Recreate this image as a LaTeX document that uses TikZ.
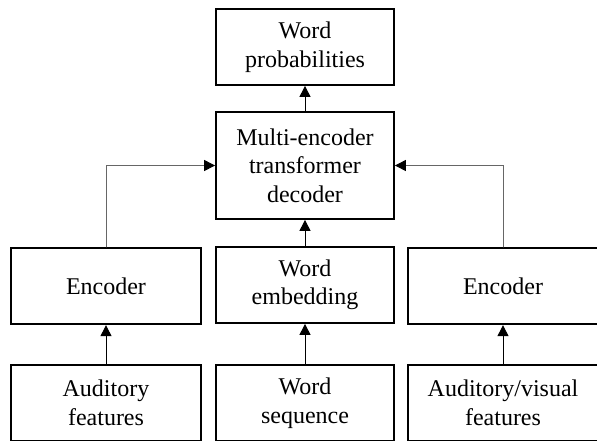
\documentclass[tikz,border=0pt]{standalone}
\usepackage{fontspec}
\setmainfont{Liberation Serif}
\usetikzlibrary{arrows.meta}

\begin{document}
\begin{tikzpicture}[x=1pt,y=-1pt,line cap=round,
  blk/.style={draw,line width=1.8pt,align=center,inner sep=0pt,
    font=\fontsize{24}{28.5}\selectfont},
  midblk/.style={blk,minimum width=178pt,minimum height=76pt},
  sideblk/.style={blk,minimum width=190pt,minimum height=76.5pt},
  up/.style={-{Triangle[length=11pt,width=11pt]},line width=1pt},
  side/.style={-{Triangle[length=11pt,width=11pt,color=black]},line width=1pt,black!60}]
\useasboundingbox (0,0) rectangle (597,440);
% middle column
\node[midblk] (prob) at (305,47) {Word\\probabilities};
\node[midblk,minimum height=107pt] (dec) at (305,165.5) {Multi-encoder\\transformer\\decoder};
\node[midblk] (emb) at (305,285) {Word\\embedding};
\node[midblk] (seq) at (305,403) {Word\\sequence};
% side columns
\node[sideblk] (encL) at (106,286) {Encoder};
\node[sideblk] (encR) at (503,286) {Encoder};
\node[sideblk] (audL) at (106,403) {Auditory\\features};
\node[sideblk] (audR) at (503,403) {Auditory/visual\\features};
% arrows
\draw[up] (dec) -- (prob);
\draw[up] (emb) -- (dec);
\draw[up] (seq) -- (emb);
\draw[up] (audL) -- (encL);
\draw[up] (audR) -- (encR);
\draw[side] (encL.north) |- (dec.west);
\draw[side] (encR.north) |- (dec.east);
\end{tikzpicture}
\end{document}
